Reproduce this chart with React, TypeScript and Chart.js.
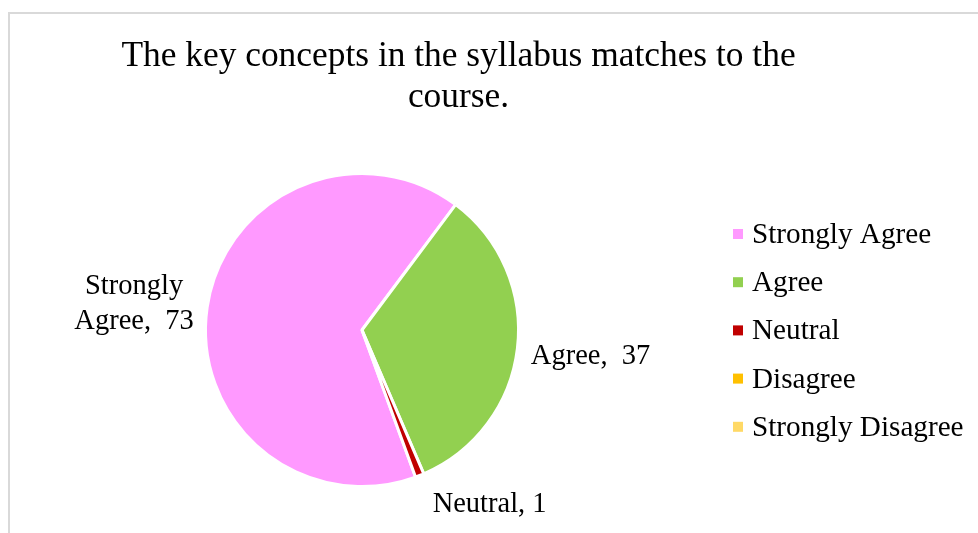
import React, { useEffect, useRef } from "react";
import { Chart, registerables } from "chart.js";

Chart.register(...registerables);

const titleLines = ["The key concepts in the syllabus matches to the", "course."];
const categories = ["Strongly Agree", "Agree", "Neutral", "Disagree", "Strongly Disagree"];
const counts = [73, 37, 1, 0, 0];
const colors = ["#FF99FF", "#92D050", "#C00000", "#FFC000", "#FFD966"];
const labelLines = [["Strongly", "Agree,  73"], ["Agree,  37"], ["Neutral, 1"], [], []];

const FONT = '"Liberation Serif", "Times New Roman", serif';

const overlayPlugin = {
  id: "overlay",
  afterDraw(chart: any) {
    const ctx = chart.ctx as CanvasRenderingContext2D;
    ctx.save();
    ctx.fillStyle = "#000000";

    // Title
    ctx.font = `35.4px ${FONT}`;
    ctx.textAlign = "center";
    ctx.textBaseline = "alphabetic";
    const titleX = 448.5;
    const titleBase = [52, 93];
    titleLines.forEach((t, i) => ctx.fillText(t, titleX, titleBase[i]));

    // Legend
    ctx.font = `29.2px ${FONT}`;
    ctx.textAlign = "left";
    const legX = 742;
    const legTop = 229;
    const legStep = 48.2;
    categories.forEach((c, i) => {
      const y = legTop + i * legStep;
      ctx.fillStyle = colors[i];
      ctx.fillRect(legX - 19, y - 14, 10, 10);
      ctx.fillStyle = "#000000";
      ctx.fillText(c, legX, y);
    });

    // Data labels, placed outside each slice from the arc geometry
    const meta = chart.getDatasetMeta(0);
    const lineH = 35;
    const gap = 15;
    ctx.font = `28.5px ${FONT}`;
    ctx.textAlign = "center";
    ctx.textBaseline = "middle";
    meta.data.forEach((arc: any, i: number) => {
      if (!counts[i]) return;
      const lines = labelLines[i];
      const p = arc.getProps(["x", "y", "startAngle", "endAngle", "outerRadius"], true);
      const mid = (p.startAngle + p.endAngle) / 2;
      const dx = Math.cos(mid);
      const dy = Math.sin(mid);
      const w = Math.max(...lines.map((l: string) => ctx.measureText(l).width));
      const h = lines.length * lineH;
      const ax = p.x + dx * (p.outerRadius - 1.5 + gap);
      const ay = p.y + dy * (p.outerRadius - 1.5 + gap);
      const fx = Math.max(-1, Math.min(1, dx * 3));
      const cx = ax + fx * (w / 2) + (Math.abs(dy) > 0.8 ? 8 : 0);
      const cy = ay + dy * (h / 2) + 5 * (1 - Math.abs(dy));
      lines.forEach((l: string, k: number) => {
        ctx.fillText(l, cx, cy - h / 2 + lineH / 2 + k * lineH);
      });
    });
    ctx.restore();
  },
};

export default function App() {
  const ref = useRef<HTMLCanvasElement>(null);
  useEffect(() => {
    if (!ref.current) return;
    const chart = new Chart(ref.current, {
      type: "pie",
      data: {
        labels: categories,
        datasets: [
          {
            data: counts,
            backgroundColor: colors,
            borderColor: "#FFFFFF",
            borderWidth: 3,
            radius: 156.5,
          } as any,
        ],
      },
      options: {
        animation: false,
        responsive: false,
        events: [],
        rotation: 160,
        layout: { padding: { left: 197, right: 461, top: 161, bottom: 48 } },
        plugins: {
          legend: { display: false },
          title: { display: false },
          tooltip: { enabled: false },
        },
      },
      plugins: [overlayPlugin],
    });
    return () => chart.destroy();
  }, []);

  return (
    <div
      style={{
        position: "fixed",
        left: 8,
        top: 12,
        borderTop: "2px solid #D9D9D9",
        borderLeft: "2px solid #D9D9D9",
        background: "#FFFFFF",
      }}
    >
      <canvas ref={ref} width={968} height={519} style={{ display: "block", width: 968, height: 519 }} />
    </div>
  );
}
